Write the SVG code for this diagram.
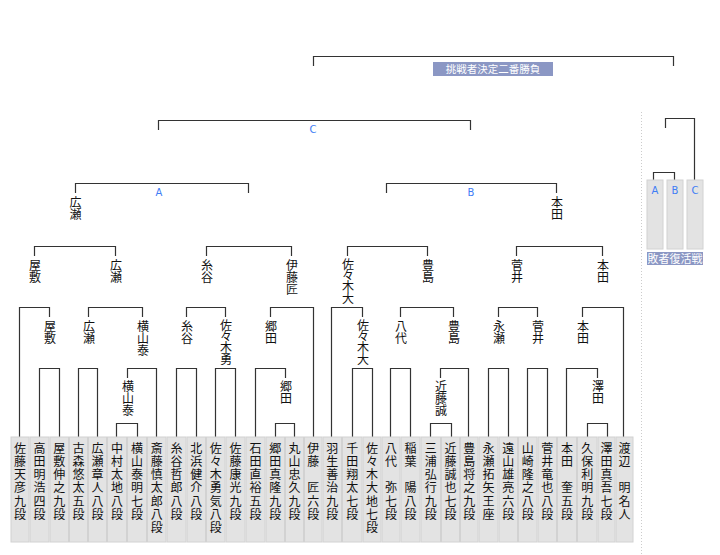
<svg xmlns="http://www.w3.org/2000/svg" width="720" height="555" viewBox="0 0 720 555">
<style>
.bg{fill:#ffffff}
.c{fill:none;stroke:#333;stroke-width:1.2}
.box{fill:#e3e3e3;stroke:#d2d2d2;stroke-width:1}
.lf{font-family:"Noto Sans CJK JP","Noto Sans CJK SC",sans-serif;font-size:12px;fill:#111;writing-mode:vertical-rl;letter-spacing:1.3px}
.wl{font-family:"Noto Sans CJK JP","Noto Sans CJK SC",sans-serif;font-size:12px;fill:#111;writing-mode:vertical-rl;letter-spacing:0.3px}
.tight{letter-spacing:-0.6px}
.ab{font-family:"DejaVu Sans","Liberation Sans",sans-serif;font-size:10px;fill:#3f7df5;text-anchor:middle}
.tb{fill:#8b97c4}
.tt{font-family:"Noto Sans CJK JP","Noto Sans CJK SC",sans-serif;font-size:10.5px;fill:#ffffff;text-anchor:middle}
.sep{stroke:#cccccc;stroke-width:1;stroke-dasharray:1 2}
</style>
<rect class="bg" x="0" y="0" width="720" height="555"/>
<line class="sep" x1="641.5" y1="112" x2="641.5" y2="555"/>

<g id="connectors">
<path class="c" d="M116.5,437 V423.5 H137.5 V437"/>
<path class="c" d="M275.5,437 V423.5 H294.5 V437"/>
<path class="c" d="M430.5,437 V423.5 H451.5 V437"/>
<path class="c" d="M587.5,437 V423.5 H607.5 V437"/>
<path class="c" d="M39.5,437 V368.5 H59.5 V437"/>
<path class="c" d="M78.5,437 V368.5 H97.5 V437"/>
<path class="c" d="M127.5,378 V368.5 H156.5 V437"/>
<path class="c" d="M176.5,437 V368.5 H196.5 V437"/>
<path class="c" d="M215.5,437 V368.5 H235.5 V437"/>
<path class="c" d="M255.5,437 V368.5 H285.5 V378"/>
<path class="c" d="M352.5,437 V368.5 H372.5 V437"/>
<path class="c" d="M390.5,437 V368.5 H410.5 V437"/>
<path class="c" d="M440.5,378 V368.5 H468.5 V437"/>
<path class="c" d="M488.5,437 V368.5 H508.5 V437"/>
<path class="c" d="M527.5,437 V368.5 H547.5 V437"/>
<path class="c" d="M566.5,437 V368.5 H597.5 V378"/>
<path class="c" d="M19.5,437 V307.5 H49.5 V317"/>
<path class="c" d="M88.5,317 V307.5 H142.5 V317"/>
<path class="c" d="M186.5,317 V307.5 H225.5 V317"/>
<path class="c" d="M270.5,317 V307.5 H313.5 V437"/>
<path class="c" d="M331.5,437 V307.5 H362.5 V317"/>
<path class="c" d="M400.5,317 V307.5 H453.5 V317"/>
<path class="c" d="M498.5,317 V307.5 H537.5 V317"/>
<path class="c" d="M582.5,317 V307.5 H623.5 V437"/>
<path class="c" d="M34.5,256 V246.5 H115.5 V256"/>
<path class="c" d="M206.5,256 V246.5 H291.5 V256"/>
<path class="c" d="M347.5,256 V246.5 H427.5 V256"/>
<path class="c" d="M516.5,256 V246.5 H602.5 V256"/>
<path class="c" d="M75.5,193 V183.5 H248.5 V193"/>
<path class="c" d="M386.5,193 V183.5 H556.5 V193"/>
<path class="c" d="M158.5,130 V120.5 H470.5 V130"/>
<path class="c" d="M313.5,66 V56.5 H673.5 V66"/>
<path class="c" d="M665.5,128 V118.5 H694.5 V180"/>
<path class="c" d="M653.5,180 V172.5 H674.5 V180"/>
</g>

<g id="final-title">
<rect class="tb" x="433" y="62" width="120" height="14"/>
<text class="tt" x="493" y="73">挑戦者決定二番勝負</text>
</g>
<g id="label-C"><text class="ab" x="313" y="133">C</text></g>
<g id="label-A"><text class="ab" x="159" y="196">A</text></g>
<g id="label-B"><text class="ab" x="471" y="196">B</text></g>

<g id="repechage">
<g id="rep-A"><rect class="box" x="647" y="180" width="16" height="69"/><text class="ab" x="655" y="194">A</text></g>
<g id="rep-B"><rect class="box" x="667" y="180" width="16" height="69"/><text class="ab" x="675" y="194">B</text></g>
<g id="rep-C"><rect class="box" x="687" y="180" width="16" height="69"/><text class="ab" x="695" y="194">C</text></g>
<g id="rep-title"><rect class="tb" x="647" y="252" width="56" height="13"/><text class="tt" x="675" y="263" style="font-size:11px">敗者復活戦</text></g>
</g>

<g id="winners">
<text class="wl" x="75.5" y="196">広瀬</text>
<text class="wl" x="557" y="196">本田</text>
<text class="wl" x="35" y="259">屋敷</text>
<text class="wl" x="116" y="259">広瀬</text>
<text class="wl" x="207" y="259">糸谷</text>
<text class="wl" x="292" y="259">伊藤匠</text>
<text class="wl tight" x="348" y="258">佐々木大</text>
<text class="wl" x="428" y="259">豊島</text>
<text class="wl" x="517" y="259">菅井</text>
<text class="wl" x="603" y="259">本田</text>
<text class="wl" x="50" y="320">屋敷</text>
<text class="wl" x="89" y="320">広瀬</text>
<text class="wl" x="143" y="320">横山泰</text>
<text class="wl" x="187" y="320">糸谷</text>
<text class="wl tight" x="226" y="319">佐々木勇</text>
<text class="wl" x="271" y="320">郷田</text>
<text class="wl tight" x="363" y="319">佐々木大</text>
<text class="wl" x="401" y="320">八代</text>
<text class="wl" x="454" y="320">豊島</text>
<text class="wl" x="499" y="320">永瀬</text>
<text class="wl" x="538" y="320">菅井</text>
<text class="wl" x="583" y="320">本田</text>
<text class="wl" x="128" y="380">横山泰</text>
<text class="wl" x="286" y="380">郷田</text>
<text class="wl" x="441" y="380">近藤誠</text>
<text class="wl" x="598" y="380">澤田</text>
</g>

<g id="leaves">
<g id="p0"><rect class="box" x="11" y="437" width="18" height="105"/><text class="lf" x="20" y="442">佐藤天彦九段</text></g>
<g id="p1"><rect class="box" x="30" y="437" width="19" height="105"/><text class="lf" x="39.5" y="442">高田明浩四段</text></g>
<g id="p2"><rect class="box" x="50" y="437" width="18.5" height="105"/><text class="lf" x="59.3" y="442">屋敷伸之九段</text></g>
<g id="p3"><rect class="box" x="69.5" y="437" width="18" height="105"/><text class="lf" x="78.5" y="442">古森悠太五段</text></g>
<g id="p4"><rect class="box" x="88.5" y="437" width="18" height="105"/><text class="lf" x="97.5" y="442">広瀬章人八段</text></g>
<g id="p5"><rect class="box" x="107.5" y="437" width="19" height="105"/><text class="lf" x="117" y="442">中村太地八段</text></g>
<g id="p6"><rect class="box" x="127.5" y="437" width="19" height="105"/><text class="lf" x="137" y="442">横山泰明七段</text></g>
<g id="p7"><rect class="box" x="147.5" y="437" width="18.5" height="105"/><text class="lf" x="156.8" y="442">斎藤慎太郎八段</text></g>
<g id="p8"><rect class="box" x="167" y="437" width="19" height="105"/><text class="lf" x="176.5" y="442">糸谷哲郎八段</text></g>
<g id="p9"><rect class="box" x="187" y="437" width="18.5" height="105"/><text class="lf" x="196.3" y="442">北浜健介八段</text></g>
<g id="p10"><rect class="box" x="206.5" y="437" width="18.5" height="105"/><text class="lf" x="215.8" y="442">佐々木勇気八段</text></g>
<g id="p11"><rect class="box" x="226" y="437" width="19" height="105"/><text class="lf" x="235.5" y="442">佐藤康光九段</text></g>
<g id="p12"><rect class="box" x="246" y="437" width="19" height="105"/><text class="lf" x="255.5" y="442">石田直裕五段</text></g>
<g id="p13"><rect class="box" x="266" y="437" width="18.5" height="105"/><text class="lf" x="275.3" y="442">郷田真隆九段</text></g>
<g id="p14"><rect class="box" x="285.5" y="437" width="18" height="105"/><text class="lf" x="294.5" y="442">丸山忠久九段</text></g>
<g id="p15"><rect class="box" x="304.5" y="437" width="17.5" height="105"/><text class="lf" x="313.3" y="442">伊藤　匠六段</text></g>
<g id="p16"><rect class="box" x="323" y="437" width="18.5" height="105"/><text class="lf" x="332.3" y="442">羽生善治九段</text></g>
<g id="p17"><rect class="box" x="342.5" y="437" width="19.5" height="105"/><text class="lf" x="352.3" y="442">千田翔太七段</text></g>
<g id="p18"><rect class="box" x="363" y="437" width="18" height="105"/><text class="lf" x="372" y="442">佐々木大地七段</text></g>
<g id="p19"><rect class="box" x="382" y="437" width="18" height="105"/><text class="lf" x="391" y="442">八代　弥七段</text></g>
<g id="p20"><rect class="box" x="401" y="437" width="19" height="105"/><text class="lf" x="410.5" y="442">稲葉　陽八段</text></g>
<g id="p21"><rect class="box" x="421" y="437" width="19.5" height="105"/><text class="lf" x="430.8" y="442">三浦弘行九段</text></g>
<g id="p22"><rect class="box" x="441.5" y="437" width="18" height="105"/><text class="lf" x="450.5" y="442">近藤誠也七段</text></g>
<g id="p23"><rect class="box" x="460.5" y="437" width="17.5" height="105"/><text class="lf" x="469.3" y="442">豊島将之九段</text></g>
<g id="p24"><rect class="box" x="479" y="437" width="19" height="105"/><text class="lf" x="488.5" y="442">永瀬拓矢王座</text></g>
<g id="p25"><rect class="box" x="499" y="437" width="18.5" height="105"/><text class="lf" x="508.3" y="442">遠山雄亮六段</text></g>
<g id="p26"><rect class="box" x="518.5" y="437" width="18.5" height="105"/><text class="lf" x="527.8" y="442">山崎隆之八段</text></g>
<g id="p27"><rect class="box" x="538" y="437" width="18.5" height="105"/><text class="lf" x="547.3" y="442">菅井竜也八段</text></g>
<g id="p28"><rect class="box" x="557.5" y="437" width="19" height="105"/><text class="lf" x="567" y="442">本田　奎五段</text></g>
<g id="p29"><rect class="box" x="577.5" y="437" width="19.5" height="105"/><text class="lf" x="587.3" y="442">久保利明九段</text></g>
<g id="p30"><rect class="box" x="598" y="437" width="17" height="105"/><text class="lf" x="606.5" y="442">澤田真吾七段</text></g>
<g id="p31"><rect class="box" x="616" y="437" width="17" height="105"/><text class="lf" x="624.5" y="442">渡辺　明名人</text></g>
</g>
</svg>
